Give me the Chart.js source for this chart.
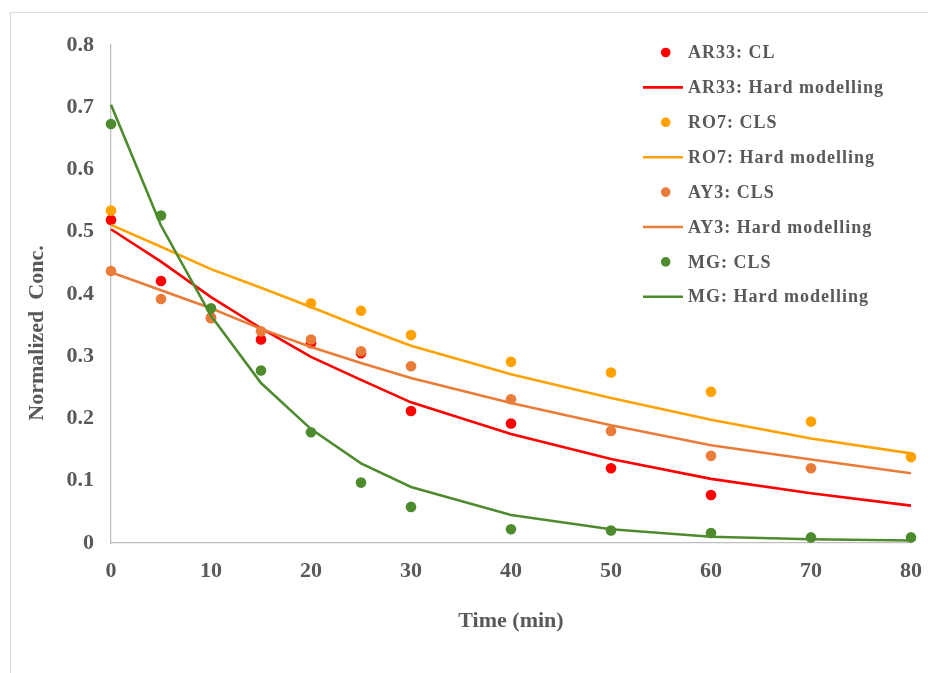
<!DOCTYPE html>
<html><head><meta charset="utf-8">
<script src="https://cdn.jsdelivr.net/npm/chart.js@4.4.0/dist/chart.umd.min.js"></script>
<style>
html,body{margin:0;padding:0;background:#fff;overflow:hidden}
#wrap{position:relative;width:928px;height:673px;overflow:hidden}
#frame{position:absolute;left:10px;top:12px;width:1000px;height:1000px;border:1px solid #D9D9D9;box-sizing:border-box}
canvas{position:absolute;left:0;top:0}
</style></head><body>
<div id="wrap"><div id="frame"></div><canvas id="c" width="928" height="673"></canvas></div>
<script>
// Shared time axis (min)
const times = [0, 5, 10, 15, 20, 25, 30, 40, 50, 60, 70, 80];

// Measured (CLS) points; null = no marker at that time
const ar33CL  = [0.519, 0.421, 0.362, 0.327, 0.321, 0.305, 0.212, 0.192, 0.120, 0.077, null, null];
const ro7CLS  = [0.534, null, null, null, 0.385, 0.373, 0.334, 0.291, 0.274, 0.243, 0.195, 0.138];
const ay3CLS  = [0.437, 0.392, 0.361, 0.340, 0.327, 0.308, 0.284, 0.231, 0.180, 0.140, 0.120, null];
const mgCLS   = [0.673, 0.526, 0.377, 0.277, 0.178, 0.097, 0.058, 0.022, 0.020, 0.016, 0.009, 0.009];

// Hard modelling curves
const ar33Hard = [0.504, 0.452, 0.395, 0.345, 0.299, 0.262, 0.226, 0.175, 0.135, 0.103, 0.080, 0.060];
const ro7Hard  = [0.511, 0.476, 0.440, 0.410, 0.379, 0.347, 0.317, 0.271, 0.233, 0.198, 0.168, 0.144];
const ay3Hard  = [0.435, 0.406, 0.377, 0.344, 0.315, 0.289, 0.265, 0.225, 0.189, 0.157, 0.134, 0.112];
const mgHard   = [0.704, 0.510, 0.365, 0.257, 0.183, 0.128, 0.090, 0.045, 0.022, 0.010, 0.006, 0.004];

// Labels
const seriesLabels = ['AR33: CL', 'AR33: Hard modelling', 'RO7: CLS', 'RO7: Hard modelling',
                      'AY3: CLS', 'AY3: Hard modelling', 'MG: CLS', 'MG: Hard modelling'];
const xTitle = 'Time (min)';
const yTitle = 'Normalized  Conc.';
const xTicks = [0, 10, 20, 30, 40, 50, 60, 70, 80];
const yTicks = [0, 0.1, 0.2, 0.3, 0.4, 0.5, 0.6, 0.7, 0.8];

const RED = '#FF0000', AMBER = '#FFA200', ORANGE = '#E97C38', GREEN = '#4E8B2E';
const TEXT = '#595959';
const FONT = '"Liberation Serif", "Times New Roman", serif';

function pts(vals) {
  return times.map((t, i) => ({x: t, y: vals[i]})).filter(p => p.y !== null);
}
function dotSet(label, vals, color, order) {
  return {label, data: pts(vals), showLine: false, pointRadius: 5.3, pointHoverRadius: 5.3,
    pointBackgroundColor: color, pointBorderColor: color, pointBorderWidth: 0,
    backgroundColor: color, borderColor: color, clip: false, order};
}
function lineSet(label, vals, color, order) {
  return {label, data: pts(vals), showLine: true, pointRadius: 0, borderColor: color,
    backgroundColor: color, borderWidth: 2.6, tension: 0, fill: false, clip: false, order};
}

const datasets = [
  dotSet(seriesLabels[0], ar33CL, RED, 8),
  lineSet(seriesLabels[1], ar33Hard, RED, 7),
  dotSet(seriesLabels[2], ro7CLS, AMBER, 6),
  lineSet(seriesLabels[3], ro7Hard, AMBER, 5),
  dotSet(seriesLabels[4], ay3CLS, ORANGE, 4),
  lineSet(seriesLabels[5], ay3Hard, ORANGE, 3),
  dotSet(seriesLabels[6], mgCLS, GREEN, 2),
  lineSet(seriesLabels[7], mgHard, GREEN, 1)
];

const sideDecor = {
  id: 'sideDecor',
  afterDraw(chart) {
    const ctx = chart.ctx, ca = chart.chartArea;
    ctx.save();
    // y-axis title
    ctx.fillStyle = TEXT;
    ctx.font = 'bold 22px ' + FONT;
    ctx.textAlign = 'center';
    ctx.textBaseline = 'middle';
    ctx.translate(ca.left - 73.5, ca.top + 288);
    ctx.rotate(-Math.PI / 2);
    ctx.fillText(yTitle, 0, 0);
    ctx.restore();

    // legend (inside plot, right side)
    ctx.save();
    ctx.font = 'bold 18px ' + FONT;
    if ('letterSpacing' in ctx) ctx.letterSpacing = '1px';
    ctx.textAlign = 'left';
    ctx.textBaseline = 'middle';
    const x0 = ca.left + 532, y0 = ca.top + 7.5, step = 34.9;
    chart.data.datasets.forEach((ds, i) => {
      const y = y0 + i * step;
      if (ds.showLine) {
        ctx.strokeStyle = ds.borderColor;
        ctx.lineWidth = 2.6;
        ctx.beginPath();
        ctx.moveTo(x0, y);
        ctx.lineTo(x0 + 40, y);
        ctx.stroke();
      } else {
        ctx.fillStyle = ds.pointBackgroundColor;
        ctx.beginPath();
        ctx.arc(x0 + 22.7, y, 4.8, 0, Math.PI * 2);
        ctx.fill();
      }
      ctx.fillStyle = TEXT;
      ctx.fillText(ds.label, x0 + 45, y + 1);
    });
    ctx.restore();
  }
};

new Chart(document.getElementById('c'), {
  type: 'scatter',
  data: {datasets},
  plugins: [sideDecor],
  options: {
    responsive: false,
    animation: false,
    events: [],
    layout: {padding: {left: 0, top: 45, right: 17, bottom: 0}},
    plugins: {legend: {display: false}, tooltip: {enabled: false}},
    scales: {
      x: {
        type: 'linear', min: 0, max: 80,
        afterFit: s => { s.height = 130; s.paddingLeft = 0; s.paddingRight = 0; },
        afterBuildTicks: s => { s.ticks = xTicks.map(v => ({value: v})); },
        grid: {display: false, drawTicks: false},
        border: {display: true, color: '#BFBFBF', width: 1.3},
        ticks: {color: TEXT, font: {family: FONT, size: 22, weight: 'bold'}, padding: 15, maxRotation: 0},
        title: {display: true, text: xTitle, color: TEXT, font: {family: FONT, size: 22, weight: 'bold'},
                padding: {top: 0, bottom: 38}}
      },
      y: {
        type: 'linear', min: 0, max: 0.8,
        afterFit: s => { s.width = 111; s.paddingTop = 0; s.paddingBottom = 0; },
        afterBuildTicks: s => { s.ticks = yTicks.map(v => ({value: v})); },
        grid: {display: false, drawTicks: false},
        border: {display: true, color: '#BFBFBF', width: 1.3},
        ticks: {color: TEXT, font: {family: FONT, size: 22, weight: 'bold'}, padding: 17,
                callback: v => String(Math.round(v * 10) / 10)}
      }
    }
  }
});
</script>
</body></html>
